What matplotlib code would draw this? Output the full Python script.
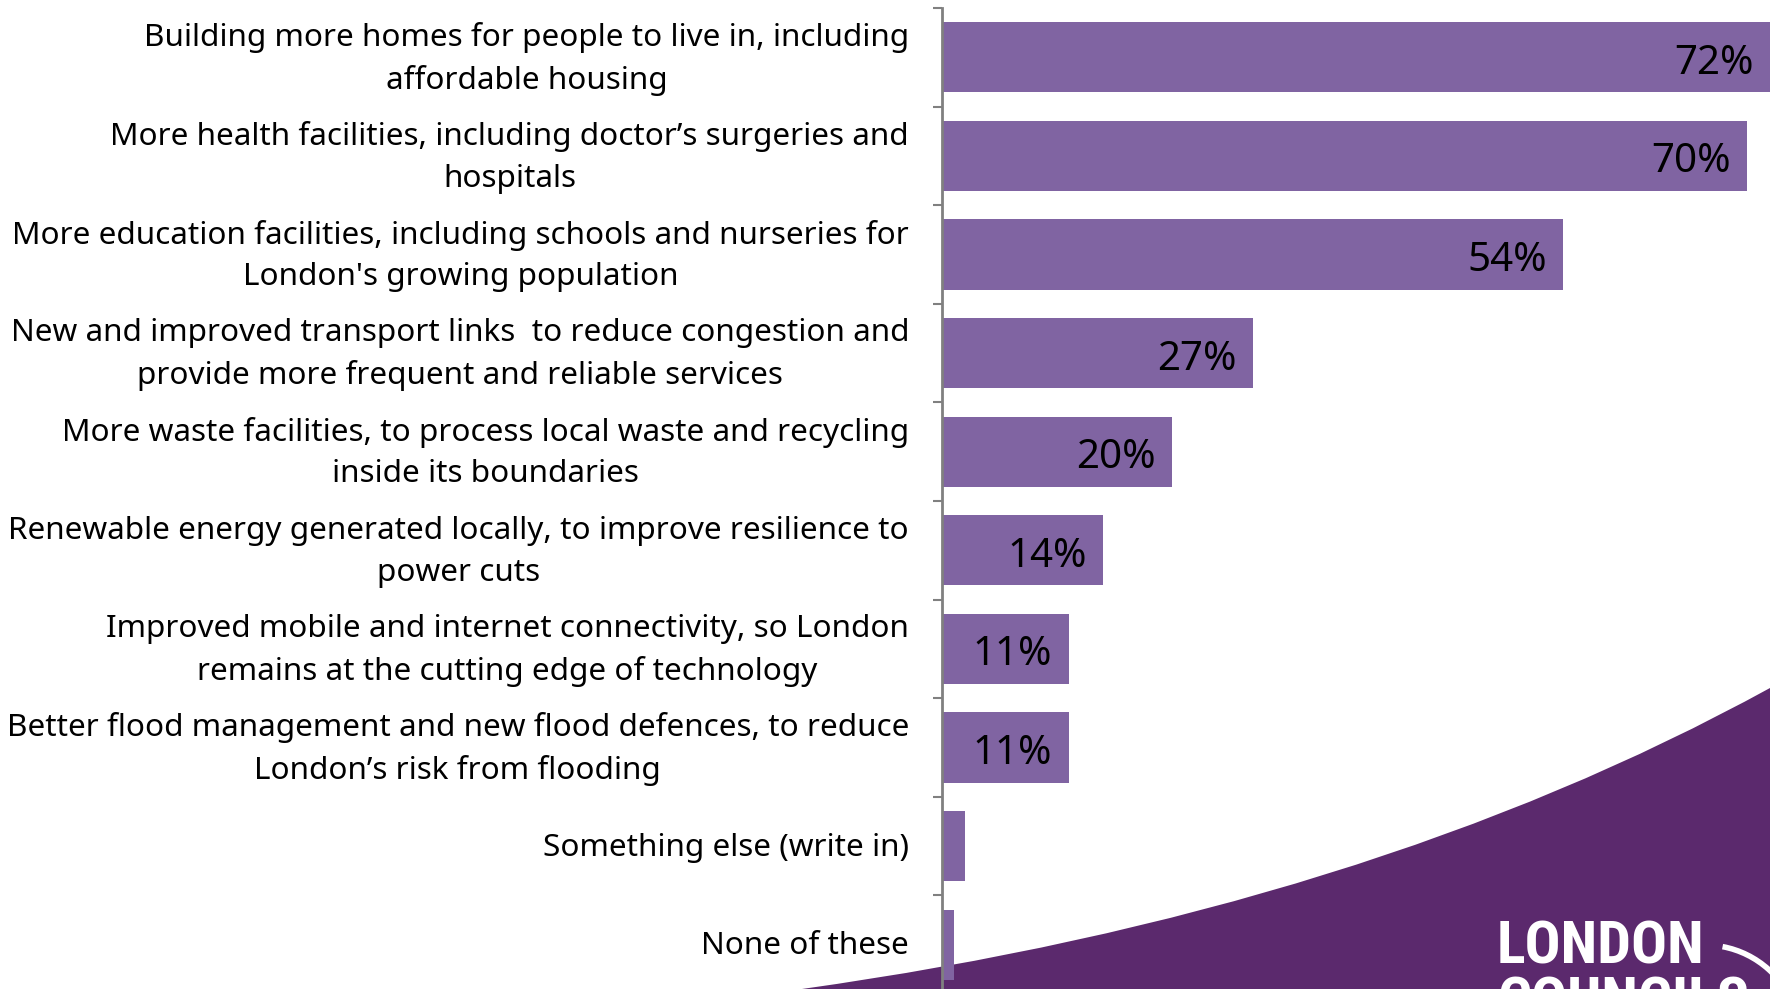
import matplotlib
matplotlib.use("Agg")
import matplotlib.pyplot as plt
from matplotlib.path import Path
from matplotlib.patches import PathPatch, Arc
from matplotlib import font_manager

# survey answers, top to bottom
categories = [
    "Building more homes for people to live in, including\naffordable housing",
    "More health facilities, including doctor\u2019s surgeries and\nhospitals",
    "More education facilities, including schools and nurseries for\nLondon's growing population",
    "New and improved transport links  to reduce congestion and\nprovide more frequent and reliable services",
    "More waste facilities, to process local waste and recycling\ninside its boundaries",
    "Renewable energy generated locally, to improve resilience to\npower cuts",
    "Improved mobile and internet connectivity, so London\nremains at the cutting edge of technology",
    "Better flood management and new flood defences, to reduce\nLondon\u2019s risk from flooding",
    "Something else (write in)",
    "None of these",
]
values = [72, 70, 54, 27, 20, 14, 11, 11, 2, 1]
value_labels = ["72%", "70%", "54%", "27%", "20%", "14%", "11%", "11%", "", ""]

BAR = "#8064A2"
BRAND = "#5B296D"
W, H = 1770, 989

names = {f.name for f in font_manager.fontManager.ttflist}
label_font = "Noto Sans" if "Noto Sans" in names else "DejaVu Sans"
logo_font = "DejaVu Sans"
for cand in ["Liberation Sans Narrow", "Roboto Condensed", "Roboto"]:
    if cand in names:
        logo_font = cand
        break

fig = plt.figure(figsize=(W / 100, H / 100), dpi=100)
fig.patch.set_facecolor("white")

# purple swoosh in the bottom-right corner (figure pixels, y up)
pts = [(802, 0), (1366, 79), (1770, 301), (1780, 301), (1780, -10), (790, -10), (802, 0)]
codes = [Path.MOVETO, Path.CURVE3, Path.CURVE3, Path.LINETO, Path.LINETO, Path.LINETO, Path.CLOSEPOLY]
verts = [(x / W, y / H) for x, y in pts]
fig.patches.append(PathPatch(Path(verts, codes), transform=fig.transFigure,
                             facecolor=BRAND, edgecolor="none", zorder=0))

ax = fig.add_axes([942 / W, -5 / H, 1 - 942 / W, 1 - 8 / H + 5 / H])
ax.set_zorder(1)
ax.patch.set_alpha(0)

ypos = list(range(len(categories)))
ax.barh(ypos, values, height=0.71, color=BAR, zorder=2)
ax.set_xlim(0, 72)
ax.set_ylim(len(categories) - 0.5, -0.5)

for y, v, lab in zip(ypos, values, value_labels):
    if lab:
        ax.text(v - 1.4, y + 0.065, lab, ha="right", va="center", fontsize=29,
                family=label_font, color="black", zorder=3)

# category labels, right aligned just left of the axis line
ytrans = ax.get_yaxis_transform()
for y, cat in zip(ypos, categories):
    ax.text(-33 / 828, y + 0.015, cat, transform=ytrans, ha="right", va="center",
            multialignment="center", linespacing=1.5, fontsize=22.7,
            family=label_font, color="black")

ax.set_yticks([])
ax.set_yticks([y - 0.5 for y in range(len(categories) + 1)], minor=True)
ax.tick_params(axis="y", which="minor", length=6.5, width=1.5, color="#808080")
ax.set_xticks([])
for s in ["top", "right", "bottom"]:
    ax.spines[s].set_visible(False)
ax.spines["left"].set_color("#808080")
ax.spines["left"].set_linewidth(2)
ax.spines["left"].set_zorder(4)

# logo
fig.text(1497 / W, (H - 963) / H, "LONDON", color="white", fontsize=43,
         fontweight="bold", family=logo_font, ha="left", va="baseline", zorder=5)
fig.text(1497 / W, (H - 1019) / H, "COUNCILS", color="white", fontsize=43,
         fontweight="bold", family=logo_font, ha="left", va="baseline", zorder=5)
fig.patches.append(Arc((1705 / W, (H - 1040) / H), 190 / W, 190 / H, theta1=28, theta2=84,
                       transform=fig.transFigure, color="white", lw=4, zorder=5))

fig.savefig("out.png", dpi=100)
